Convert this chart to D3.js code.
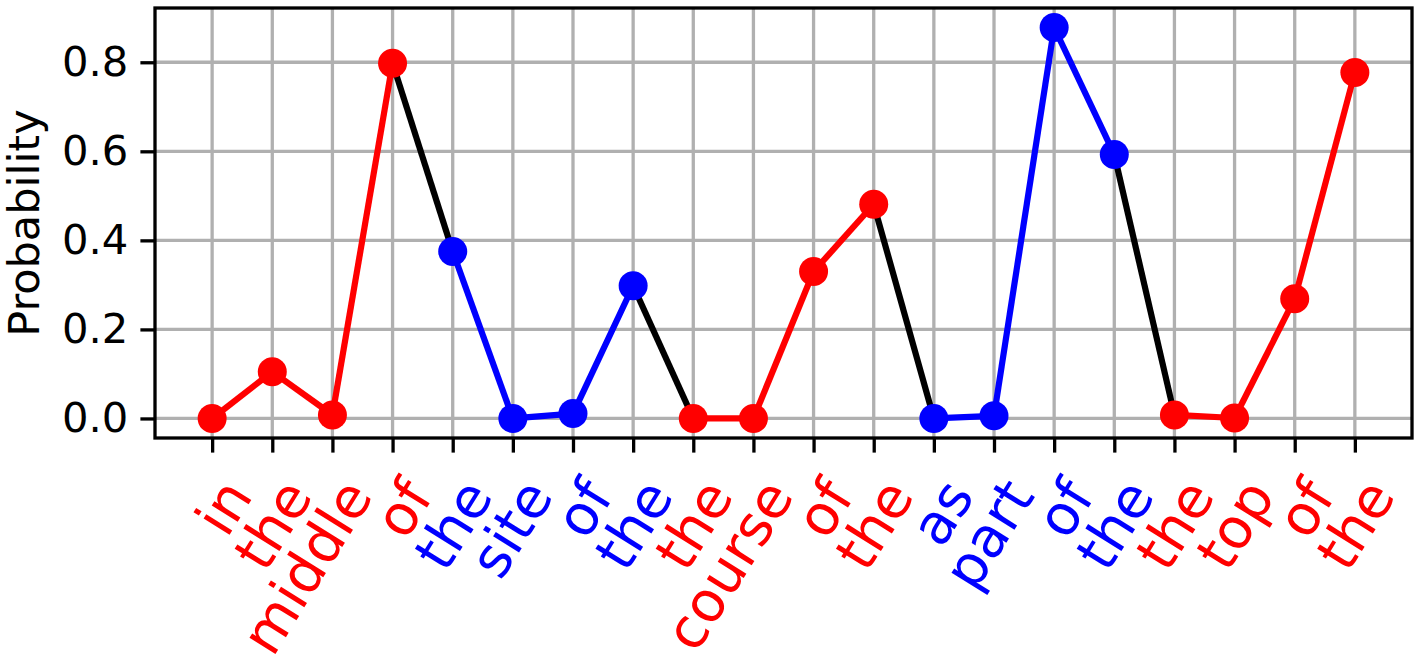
<!DOCTYPE html>
<html>
<head>
<meta charset="utf-8">
<script src="https://cdn.jsdelivr.net/npm/d3@7"></script>
<style>
  html, body { margin: 0; padding: 0; background: #fff; }
  svg { display: block; font-family: "DejaVu Sans", sans-serif; }
</style>
</head>
<body>
<svg id="chart" width="1420" height="667"></svg>
<script>
// ---- data ----
const words = ["in","the","middle","of","the","site","of","the","the","course",
               "of","the","as","part","of","the","the","top","of","the"];
const probs = [0.000,0.105,0.008,0.798,0.375,0.000,0.011,0.298,0.000,0.000,
               0.330,0.481,0.000,0.006,0.878,0.593,0.008,0.001,0.269,0.777];
const phraseIds = [0,0,0,0,1,1,1,1,2,2,2,2,3,3,3,3,4,4,4,4];
const phraseColors = ["#ff0000","#0000ff","#ff0000","#0000ff","#ff0000"];
const yTicks = [0.0,0.2,0.4,0.6,0.8];
const yLabel = "Probability";

// ---- layout ----
const svg = d3.select("#chart");
const L = 155, R = 1412, T = 8, B = 438;
const n = words.length;
const x = d3.scaleLinear().domain([-0.95, n - 1 + 0.95]).range([L, R]);
const yMax = d3.max(probs), pad = 0.05 * yMax;
const y = d3.scaleLinear().domain([-pad, yMax + pad]).range([B, T]);

const grid = "#b0b0b0";
// grid
svg.append("g").selectAll("line.v").data(d3.range(n)).join("line")
  .attr("x1", d => x(d)).attr("x2", d => x(d)).attr("y1", T).attr("y2", B)
  .attr("stroke", grid).attr("stroke-width", 3.3);
svg.append("g").selectAll("line.h").data(yTicks).join("line")
  .attr("x1", L).attr("x2", R).attr("y1", d => y(d)).attr("y2", d => y(d))
  .attr("stroke", grid).attr("stroke-width", 3.3);

// segments
const segs = d3.range(n - 1).map(i => ({
  i, color: phraseIds[i] === phraseIds[i + 1] ? phraseColors[phraseIds[i]] : "#000000"
}));
svg.append("g").selectAll("line").data(segs).join("line")
  .attr("x1", d => x(d.i)).attr("y1", d => y(probs[d.i]))
  .attr("x2", d => x(d.i + 1)).attr("y2", d => y(probs[d.i + 1]))
  .attr("stroke", d => d.color).attr("stroke-width", 6.2)
  .attr("stroke-linecap", "butt");

// markers
svg.append("g").selectAll("circle").data(probs).join("circle")
  .attr("cx", (d, i) => x(i)).attr("cy", d => y(d)).attr("r", 14.5)
  .attr("fill", (d, i) => phraseColors[phraseIds[i]]);

// frame
svg.append("rect").attr("x", L).attr("y", T).attr("width", R - L).attr("height", B - T)
  .attr("fill", "none").attr("stroke", "#000").attr("stroke-width", 3.3);

// y axis
const yAxis = d3.axisLeft(y).tickValues(yTicks).tickFormat(d3.format(".1f"))
  .tickSize(14.6).tickPadding(12);
const gy = svg.append("g").attr("transform", `translate(${L},0)`).call(yAxis);
gy.select(".domain").remove();
gy.selectAll(".tick line").attr("stroke", "#000").attr("stroke-width", 3.3);
gy.selectAll(".tick text").attr("font-size", 41.7).attr("fill", "#000")
  .attr("font-family", "DejaVu Sans");

// x axis
const xAxis = d3.axisBottom(x).tickValues(d3.range(n)).tickFormat(() => "").tickSize(14.6);
const gx = svg.append("g").attr("transform", `translate(0,${B})`).call(xAxis);
gx.select(".domain").remove();
gx.selectAll(".tick line").attr("stroke", "#000").attr("stroke-width", 3.3);

// x labels rotated (anchored at their right/top end)
const rot = 58;
svg.append("g").selectAll("text").data(words).join("text")
  .attr("transform", (d, i) => `translate(${x(i)},${B + 32}) rotate(${-rot})`)
  .attr("text-anchor", "end")
  .attr("dy", "0.875em")
  .attr("font-size", 56)
  .attr("fill", (d, i) => phraseColors[phraseIds[i]])
  .text(d => d);

// y label
svg.append("text")
  .attr("transform", `translate(${39},${(T + B) / 2}) rotate(-90)`)
  .attr("text-anchor", "middle")
  .attr("font-size", 43)
  .attr("fill", "#000")
  .text(yLabel);
</script>
</body>
</html>
